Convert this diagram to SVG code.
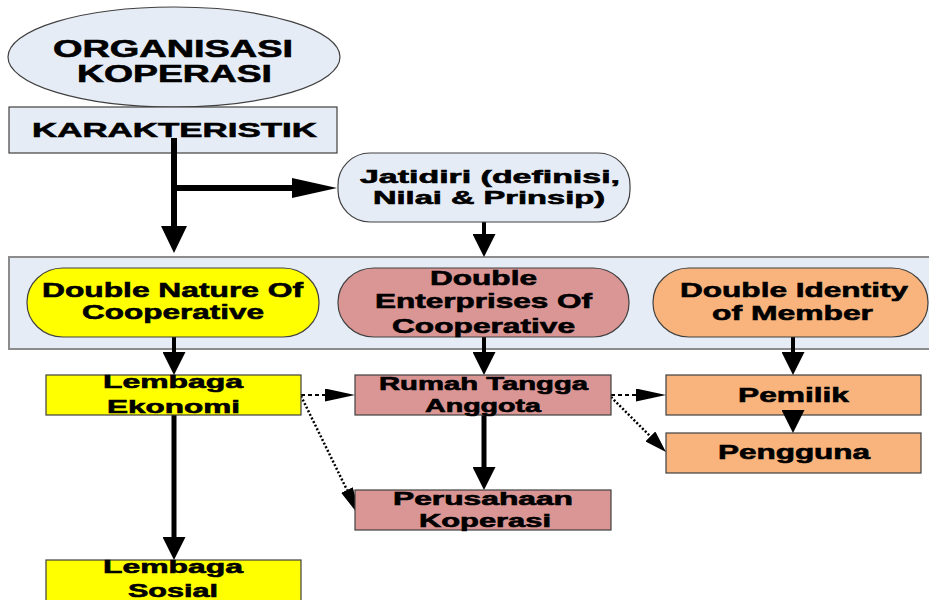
<svg xmlns="http://www.w3.org/2000/svg" width="929" height="600" viewBox="0 0 929 600">
<style>
  .t { font-family: "Liberation Sans", Arial, sans-serif; font-weight: bold; fill: #000; stroke: #000; stroke-width: 0.6; text-anchor: middle; }
  .lb { fill: #e6ecf6; stroke: #404040; stroke-width: 1.2; }
  .box { stroke: #404040; stroke-width: 1.2; }
  .yel { fill: #ffff00; }
  .pnk { fill: #da9694; }
  .org { fill: #f8b47c; }
  .solid { fill: none; stroke: #000; }
  .dash { fill: none; stroke: #000; stroke-width: 2; stroke-dasharray: 4 3; }
  .dot { fill: none; stroke: #000; stroke-width: 2.5; stroke-dasharray: 2 2; }
</style>
<defs>
  <marker id="big" markerUnits="userSpaceOnUse" viewBox="0 0 27 26" refX="0" refY="13" markerWidth="27" markerHeight="26" orient="auto"><path d="M0,0 L27,13 L0,26 z" fill="#000"/></marker>
  <marker id="hz" markerUnits="userSpaceOnUse" viewBox="0 0 45 20" refX="0" refY="10" markerWidth="45" markerHeight="20" orient="auto"><path d="M0,0 L45,10 L0,20 z" fill="#000"/></marker>
  <marker id="med" markerUnits="userSpaceOnUse" viewBox="0 0 23 23" refX="0" refY="11.5" markerWidth="23" markerHeight="23" orient="auto"><path d="M0,0 L23,11.5 L0,23 z" fill="#000"/></marker>
  <marker id="sm" markerUnits="userSpaceOnUse" viewBox="0 0 30 13" refX="0" refY="6.5" markerWidth="30" markerHeight="13" orient="auto"><path d="M0,0 L30,6.5 L0,13 z" fill="#000"/></marker>
  <marker id="sm2" markerUnits="userSpaceOnUse" viewBox="0 0 22 14" refX="0" refY="7" markerWidth="22" markerHeight="14" orient="auto"><path d="M0,0 L22,7 L0,14 z" fill="#000"/></marker>
</defs>

<g id="container">
  <rect x="9" y="257" width="940" height="92" fill="#e6ecf6" stroke="#8c8c8c" stroke-width="2"/>
</g>

<g id="organisasi">
  <ellipse cx="174" cy="57" rx="166" ry="50" class="lb"/>
  <text class="t" x="173" y="57" font-size="24" textLength="240" lengthAdjust="spacingAndGlyphs">ORGANISASI</text>
  <text class="t" x="174.5" y="82" font-size="24" textLength="195" lengthAdjust="spacingAndGlyphs">KOPERASI</text>
</g>

<g id="karakteristik">
  <rect x="9" y="107" width="328" height="46" class="lb"/>
  <text class="t" x="174.5" y="137" font-size="21" textLength="285" lengthAdjust="spacingAndGlyphs">KARAKTERISTIK</text>
</g>

<g id="pemilik">
  <rect x="666" y="375" width="255" height="40" class="box org"/>
  <text class="t" x="793.5" y="402" font-size="20" textLength="111" lengthAdjust="spacingAndGlyphs">Pemilik</text>
</g>

<g id="pengguna">
  <rect x="666" y="433" width="255" height="40" class="box org"/>
  <text class="t" x="794" y="459" font-size="20" textLength="152" lengthAdjust="spacingAndGlyphs">Pengguna</text>
</g>

<g id="connectors">
  <path class="solid" stroke-width="6" d="M174,138 L174,226" marker-end="url(#big)"/>
  <path class="solid" stroke-width="6" d="M174,188 L292,188" marker-end="url(#hz)"/>
  <path class="solid" stroke-width="4" d="M484,222 L484,234" marker-end="url(#med)"/>
  <path class="solid" stroke-width="4" d="M174,337 L174,352" marker-end="url(#med)"/>
  <path class="solid" stroke-width="4" d="M484,337 L484,352" marker-end="url(#med)"/>
  <path class="solid" stroke-width="4" d="M793,337 L793,352" marker-end="url(#med)"/>
  <path class="solid" stroke-width="5" d="M174,415 L174,537" marker-end="url(#med)"/>
  <path class="solid" stroke-width="5" d="M484,415 L484,467" marker-end="url(#med)"/>
  <path d="M793,409 L793,410" stroke="none" fill="none" marker-end="url(#med)"/>
  <path class="dash" d="M301,395 L325,395" marker-end="url(#sm)"/>
  <path class="dash" d="M611,395 L636,395" marker-end="url(#sm)"/>
  <path class="dot" d="M301,396 L347,490" marker-end="url(#sm)"/>
  <path class="dot" d="M611,397 L650.4,436.4" marker-end="url(#sm2)"/>
</g>

<g id="jatidiri">
  <rect x="338" y="153" width="292" height="69" rx="32" ry="32" class="lb"/>
  <text class="t" x="490" y="183" font-size="19" textLength="260" lengthAdjust="spacingAndGlyphs">Jatidiri (definisi,</text>
  <text class="t" x="489" y="204" font-size="19" textLength="232" lengthAdjust="spacingAndGlyphs">Nilai &amp; Prinsip)</text>
</g>

<g id="double-nature">
  <rect x="27" y="268" width="292" height="69" rx="36" ry="34" class="box yel"/>
  <text class="t" x="172.5" y="297" font-size="21" textLength="261" lengthAdjust="spacingAndGlyphs">Double Nature Of</text>
  <text class="t" x="173" y="319" font-size="21" textLength="182" lengthAdjust="spacingAndGlyphs">Cooperative</text>
</g>

<g id="double-enterprises">
  <rect x="338" y="268" width="291" height="69" rx="36" ry="34" class="box pnk"/>
  <text class="t" x="483.5" y="285" font-size="20" textLength="107" lengthAdjust="spacingAndGlyphs">Double</text>
  <text class="t" x="483.5" y="308" font-size="20" textLength="217" lengthAdjust="spacingAndGlyphs">Enterprises Of</text>
  <text class="t" x="483.5" y="333" font-size="20" textLength="183" lengthAdjust="spacingAndGlyphs">Cooperative</text>
</g>

<g id="double-identity">
  <rect x="653" y="268" width="275" height="69" rx="36" ry="34" class="box org"/>
  <text class="t" x="794" y="297" font-size="21" textLength="228" lengthAdjust="spacingAndGlyphs">Double Identity</text>
  <text class="t" x="792.5" y="320" font-size="21" textLength="161" lengthAdjust="spacingAndGlyphs">of Member</text>
</g>

<g id="lembaga-ekonomi">
  <rect x="46" y="375" width="255" height="40" class="box yel"/>
  <text class="t" x="173" y="388" font-size="19" textLength="140" lengthAdjust="spacingAndGlyphs">Lembaga</text>
  <text class="t" x="173.5" y="413" font-size="19" textLength="133" lengthAdjust="spacingAndGlyphs">Ekonomi</text>
</g>

<g id="lembaga-sosial">
  <rect x="46" y="560" width="255" height="45" class="box yel"/>
  <text class="t" x="173" y="573" font-size="19" textLength="140" lengthAdjust="spacingAndGlyphs">Lembaga</text>
  <text class="t" x="173" y="597" font-size="19" textLength="90" lengthAdjust="spacingAndGlyphs">Sosial</text>
</g>

<g id="rumah-tangga">
  <rect x="355" y="375" width="256" height="40" class="box pnk"/>
  <text class="t" x="483.5" y="390" font-size="18" textLength="209" lengthAdjust="spacingAndGlyphs">Rumah Tangga</text>
  <text class="t" x="483" y="412" font-size="18" textLength="116" lengthAdjust="spacingAndGlyphs">Anggota</text>
</g>

<g id="perusahaan">
  <rect x="355" y="490" width="256" height="40" class="box pnk"/>
  <text class="t" x="483" y="505" font-size="18" textLength="180" lengthAdjust="spacingAndGlyphs">Perusahaan</text>
  <text class="t" x="485" y="527" font-size="18" textLength="132" lengthAdjust="spacingAndGlyphs">Koperasi</text>
</g>
</svg>
